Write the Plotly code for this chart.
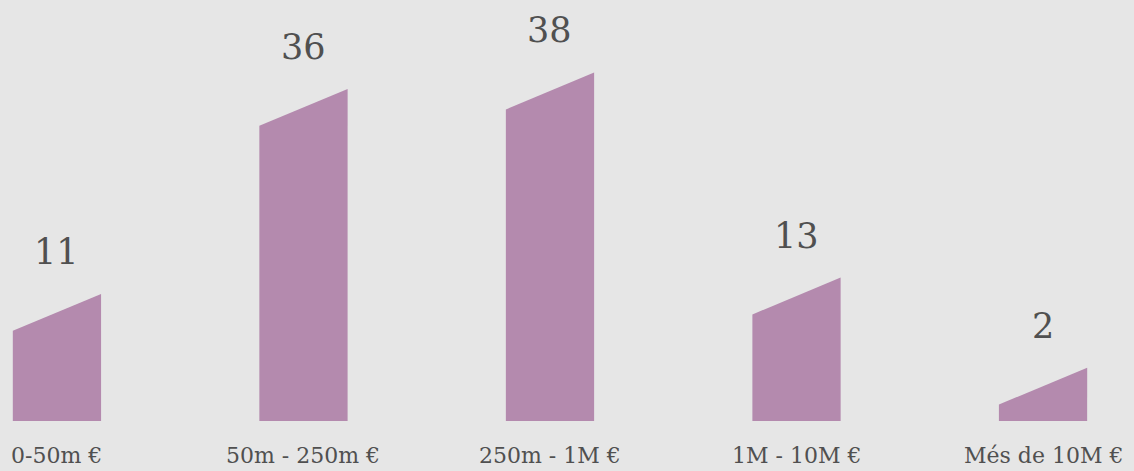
import plotly.graph_objects as go

categories = ["0-50m €", "50m - 250m €", "250m - 1M €", "1M - 10M €", "Més de 10M €"]
values = [11, 36, 38, 13, 2]

BAR_COLOR = "#b48aae"
BG = "#e6e6e6"
TEXT = "#505050"
HALF_W = 0.179
SLANT = 4.5
FONT = "DejaVu Serif"

fig = go.Figure()
for i, (cat, v) in enumerate(zip(categories, values)):
    xs = [i - HALF_W, i + HALF_W, i + HALF_W, i - HALF_W, i - HALF_W]
    ys = [0, 0, v + SLANT, v, 0]
    fig.add_trace(go.Scatter(x=xs, y=ys, fill="toself", fillcolor=BAR_COLOR,
                             mode="lines", line=dict(width=0, color=BAR_COLOR),
                             hoverinfo="skip", showlegend=False))
    fig.add_annotation(x=i, y=v + SLANT, text=str(v), showarrow=False,
                       yanchor="middle", yshift=42,
                       font=dict(family=FONT, size=35, color=TEXT))
    fig.add_annotation(x=i, y=0, text=cat, showarrow=False,
                       yanchor="middle", yshift=-34,
                       font=dict(family=FONT, size=22, color=TEXT))

fig.update_layout(
    width=1134, height=471,
    margin=dict(l=0, r=0, t=0, b=50),
    paper_bgcolor=BG, plot_bgcolor=BG,
    xaxis=dict(range=[-0.231, 4.369], visible=False, fixedrange=True),
    yaxis=dict(range=[0, 51.34], visible=False, fixedrange=True),
)

fig.write_html("out.html", config={"displayModeBar": False},
               post_script="document.body.style.margin='0';document.body.style.overflow='hidden';")
